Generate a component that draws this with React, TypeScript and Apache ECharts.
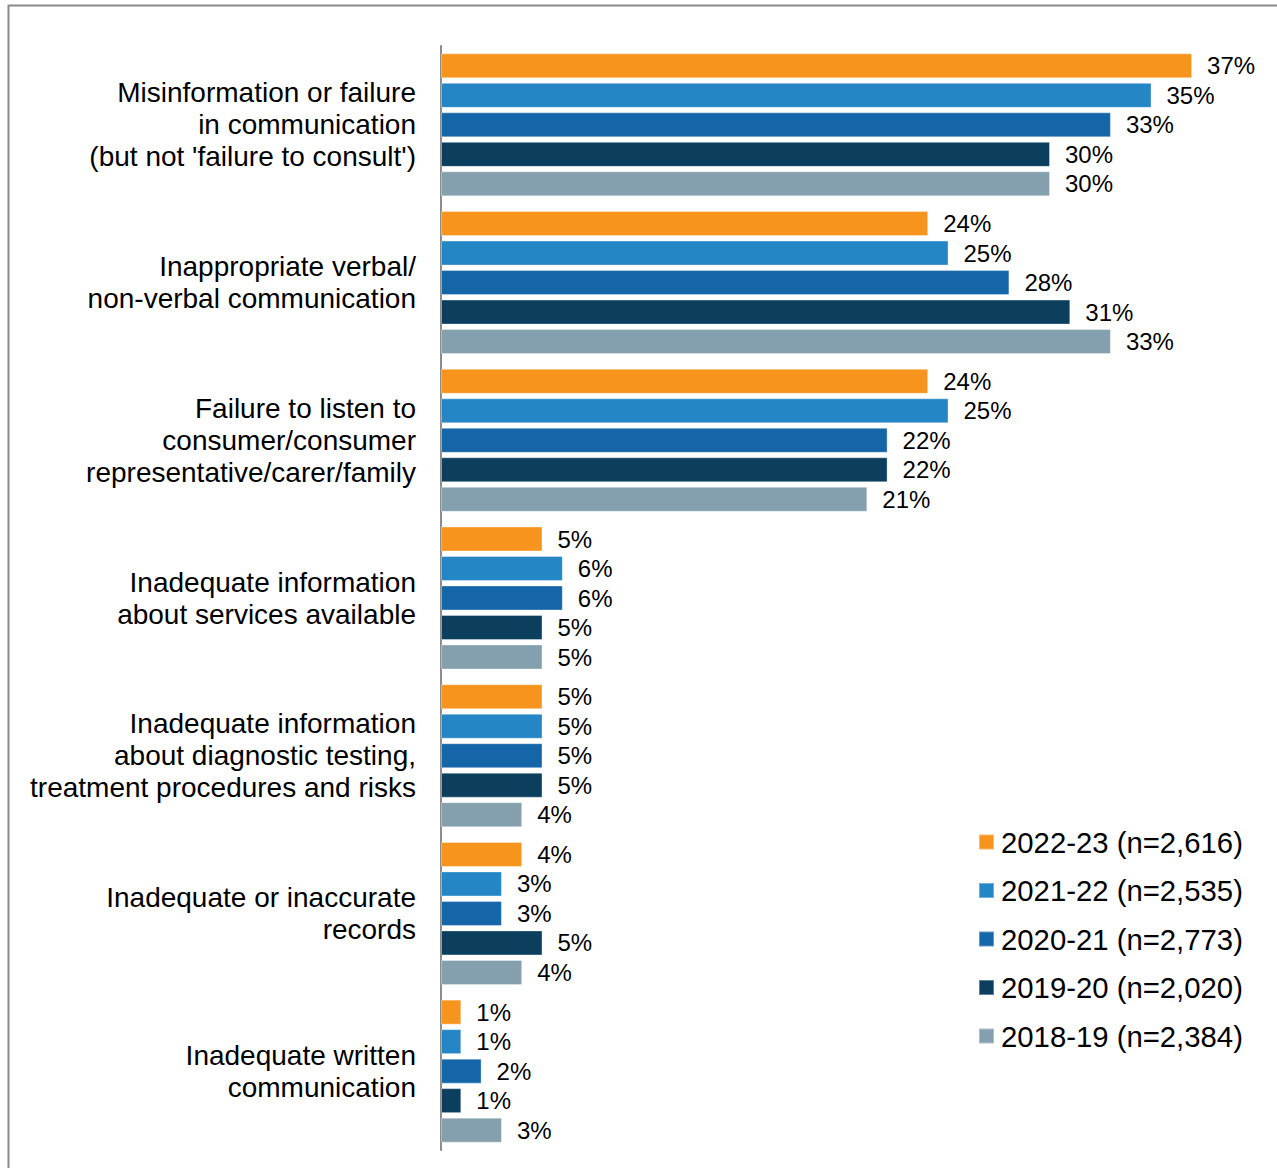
import React, { useEffect, useRef } from "react";
import * as echarts from "echarts";

const categories = [
  "Misinformation or failure\nin communication\n(but not 'failure to consult')",
  "Inappropriate verbal/\nnon-verbal communication",
  "Failure to listen to\nconsumer/consumer\nrepresentative/carer/family",
  "Inadequate information\nabout services available",
  "Inadequate information\nabout diagnostic testing,\ntreatment procedures and risks",
  "Inadequate or inaccurate\nrecords",
  "Inadequate written\ncommunication",
];

const seriesNames = [
  "2022-23 (n=2,616)",
  "2021-22 (n=2,535)",
  "2020-21 (n=2,773)",
  "2019-20 (n=2,020)",
  "2018-19 (n=2,384)",
];

const values2022 = [37, 24, 24, 5, 5, 4, 1];
const values2021 = [35, 25, 25, 6, 5, 3, 1];
const values2020 = [33, 28, 22, 6, 5, 3, 2];
const values2019 = [30, 31, 22, 5, 5, 5, 1];
const values2018 = [30, 33, 21, 5, 4, 4, 3];

const colors = ["#F7941E", "#2586C6", "#1466A8", "#0C3F5E", "#849FAD"];

export default function App() {
  const ref = useRef<HTMLDivElement>(null);
  useEffect(() => {
    document.body.style.margin = "0";
    const chart = echarts.init(ref.current!, null, { renderer: "svg" });
    const allValues = [values2022, values2021, values2020, values2019, values2018];
    chart.setOption({
      animation: false,
      backgroundColor: "#ffffff",
      color: colors,
      textStyle: { fontFamily: "'Liberation Sans', Arial, sans-serif" },
      graphic: [
        {
          type: "rect",
          shape: { x: 8.5, y: 5.5, width: 1300, height: 1200 },
          style: { fill: "none", stroke: "#8a8a8a", lineWidth: 2 },
          silent: true,
        },
      ],
      grid: { left: 441, top: 46, width: 812, height: 1104, containLabel: false },
      xAxis: {
        type: "value",
        min: 0,
        max: 40,
        show: false,
      },
      yAxis: {
        type: "category",
        data: categories,
        inverse: true,
        axisLine: { show: true, lineStyle: { color: "#8c8c8c", width: 2 } },
        axisTick: { show: false },
        axisLabel: {
          color: "#000000",
          fontSize: 28,
          lineHeight: 32,
          align: "right",
          margin: 25,
          fontFamily: "'Liberation Sans', Arial, sans-serif",
        },
      },
      legend: {
        orient: "vertical",
        left: 973,
        top: 822,
        itemWidth: 15,
        itemHeight: 15,
        itemGap: 18.5,
        icon: "rect",
        data: seriesNames,
        textStyle: {
          color: "#000000",
          fontSize: 29.3,
          lineHeight: 30,
          fontFamily: "'Liberation Sans', Arial, sans-serif",
          padding: [0, 0, 0, 2],
        },
      },
      series: seriesNames.map((name, i) => ({
        name,
        type: "bar",
        data: allValues[i],
        barWidth: 25,
        barGap: "18%",
        itemStyle: { color: colors[i], borderColor: "rgba(255,255,255,0.35)", borderWidth: 1 },
        label: {
          show: true,
          position: "right",
          distance: 15,
          formatter: "{c}%",
          color: "#000000",
          fontSize: 24,
          fontFamily: "'Liberation Sans', Arial, sans-serif",
        },
      })),
    });
    return () => chart.dispose();
  }, []);
  return <div ref={ref} style={{ width: 1277, height: 1168 }} />;
}
